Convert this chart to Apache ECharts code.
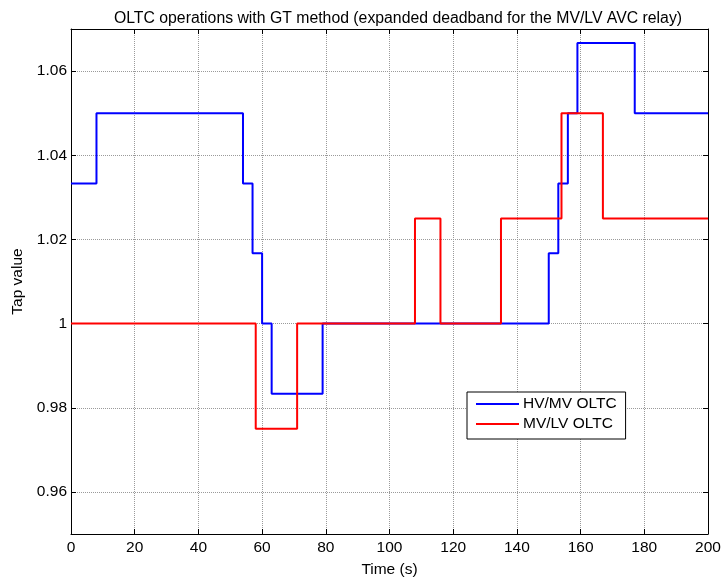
<!DOCTYPE html>
<html>
<head>
<meta charset="utf-8">
<script src="https://cdn.jsdelivr.net/npm/echarts@6/dist/echarts.min.js"></script>
<style>
  html, body { margin: 0; padding: 0; background: #fff; }
  #main { width: 725px; height: 583px; }
</style>
</head>
<body>
<div id="main"></div>
<script>
// tap changes (time of change, new tap value)
var hvTimes = [0, 8, 54, 57, 60, 63, 79, 150, 153, 156, 159, 177, 200];
var hvTaps = [1.0333, 1.05, 1.0333, 1.0167, 1.0, 0.9833, 1.0, 1.0167, 1.0333, 1.05, 1.0667, 1.05, 1.05];
var lvTimes = [0, 58, 71, 108, 116, 135, 154, 167, 200];
var lvTaps = [1.0, 0.975, 1.0, 1.025, 1.0, 1.025, 1.05, 1.025, 1.025];
var yTicks = [0.96, 0.98, 1.0, 1.02, 1.04, 1.06];
var seriesNames = ["HV/MV OLTC", "MV/LV OLTC"];

function pairs(t, v) {
  var out = [];
  for (var i = 0; i < t.length; i++) {
    out.push([t[i], v[i]]);
  }
  return out;
}

var font = "Liberation Sans, Arial, sans-serif";
var fs = 15.5;
var gridLine = { show: true, lineStyle: { color: "#9a9a9a", width: 1, type: [1, 1] } };

var myChart = echarts.init(document.getElementById("main"));
myChart.setOption({
  animation: false,
  backgroundColor: "#fff",
  title: {
    text: "OLTC operations with GT method (expanded deadband for the MV/LV AVC relay)",
    left: 393,
    textAlign: "center",
    top: 6,
    textStyle: { fontFamily: font, fontSize: 15.8, fontWeight: "normal", color: "#000" }
  },
  grid: { left: 71, right: 17, top: 29, bottom: 48 },
  legend: {
    orient: "vertical",
    left: 467,
    top: 392,
    padding: [4, 9, 7, 9],
    itemGap: 4,
    itemWidth: 43,
    itemHeight: 2,
    icon: "rect",
    backgroundColor: "#fff",
    borderColor: "#000",
    borderWidth: 1,
    borderRadius: 0,
    textStyle: { fontFamily: font, fontSize: fs, color: "#000", padding: [0, 0, 0, -1] },
    data: seriesNames
  },
  xAxis: [
    {
      type: "value",
      min: 0,
      max: 200,
      interval: 20,
      name: "Time (s)",
      nameLocation: "middle",
      nameGap: 28,
      nameTextStyle: { fontFamily: font, fontSize: fs, color: "#000" },
      axisLine: { show: true, onZero: false, lineStyle: { color: "#000", width: 1 } },
      axisTick: { show: true, inside: true, length: 5, lineStyle: { color: "#000" } },
      axisLabel: { fontFamily: font, fontSize: fs, color: "#000", margin: 6 },
      splitLine: gridLine
    },
    {
      type: "value",
      position: "top",
      min: 0,
      max: 200,
      interval: 20,
      axisLine: { show: true, onZero: false, lineStyle: { color: "#000", width: 1 } },
      axisTick: { show: true, inside: true, length: 5, lineStyle: { color: "#000" } },
      axisLabel: { show: false },
      splitLine: { show: false }
    }
  ],
  yAxis: [
    {
      type: "value",
      min: 0.95,
      max: 1.07,
      name: "Tap value",
      nameLocation: "middle",
      nameGap: 43,
      nameTextStyle: { fontFamily: font, fontSize: fs, color: "#000" },
      axisLine: { show: true, onZero: false, lineStyle: { color: "#000", width: 1 } },
      axisTick: { show: true, inside: true, length: 5, customValues: yTicks, lineStyle: { color: "#000" } },
      axisLabel: { fontFamily: font, fontSize: fs, color: "#000", margin: 4, customValues: yTicks },
      splitLine: gridLine
    },
    {
      type: "value",
      position: "right",
      min: 0.95,
      max: 1.07,
      axisLine: { show: true, onZero: false, lineStyle: { color: "#000", width: 1 } },
      axisTick: { show: true, inside: true, length: 5, customValues: yTicks, lineStyle: { color: "#000" } },
      axisLabel: { show: false, customValues: yTicks },
      splitLine: { show: false }
    }
  ],
  series: [
    {
      name: seriesNames[0],
      type: "line",
      step: "end",
      showSymbol: false,
      data: pairs(hvTimes, hvTaps),
      itemStyle: { color: "#0000ff" },
      lineStyle: { color: "#0000ff", width: 2 },
      z: 3
    },
    {
      name: seriesNames[1],
      type: "line",
      step: "end",
      showSymbol: false,
      data: pairs(lvTimes, lvTaps),
      itemStyle: { color: "#ff0000" },
      lineStyle: { color: "#ff0000", width: 2 },
      z: 4
    }
  ]
});
</script>
</body>
</html>
